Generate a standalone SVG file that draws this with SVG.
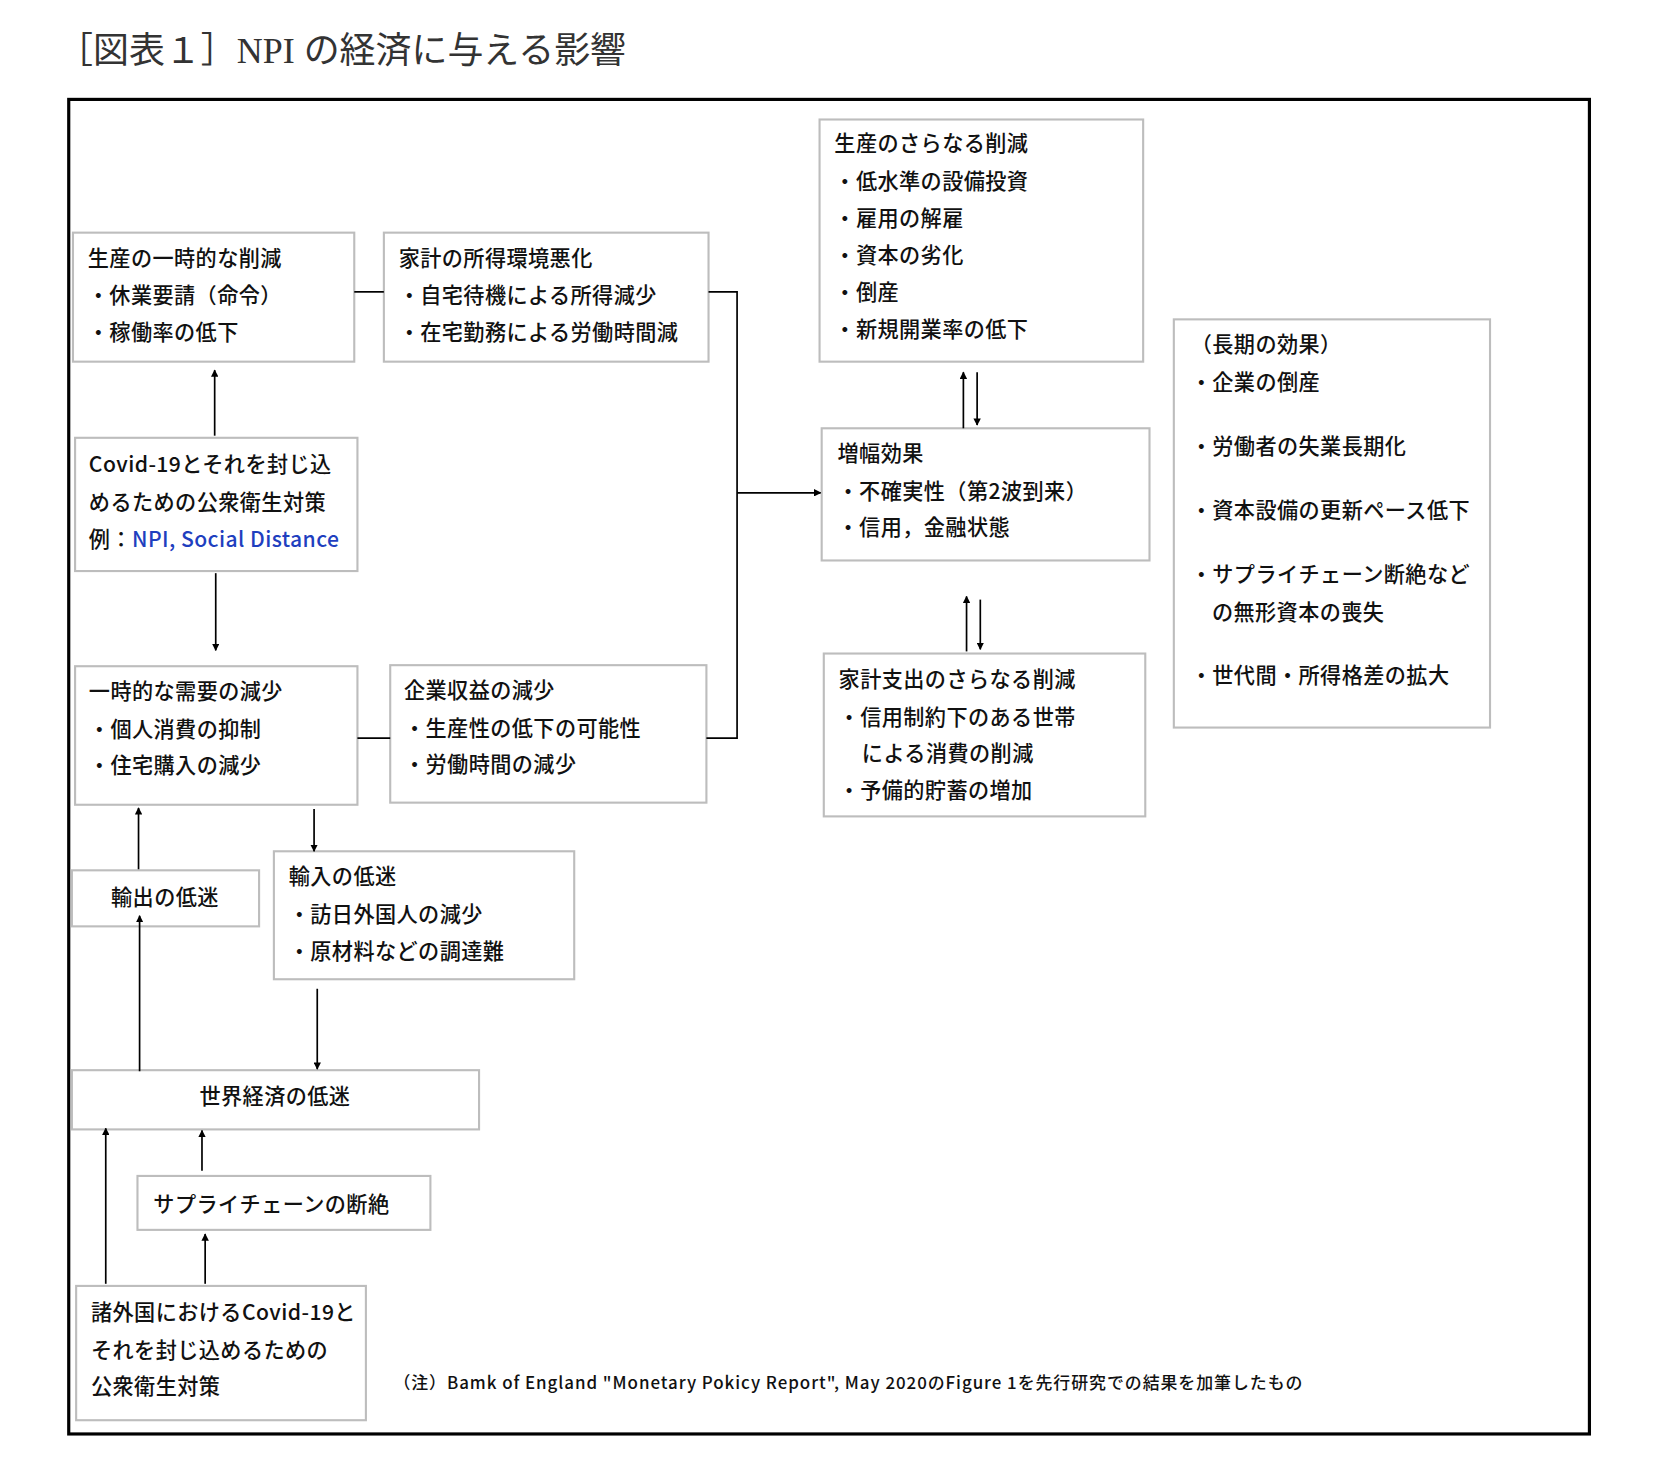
<svg xmlns="http://www.w3.org/2000/svg" width="1658" height="1471" viewBox="0 0 1658 1471">
<style>
.b{fill:#fff;stroke:#bdbdbd;stroke-width:2}
.t{font-family:"Noto Sans CJK JP","Noto Sans",sans-serif;font-size:20px;font-weight:500;fill:#111;dominant-baseline:central;letter-spacing:0.4px}
.c{stroke:#000;stroke-width:1.6;fill:none}
.a{marker-end:url(#ar)}
</style>
<defs><marker id="ar" viewBox="0 0 10 10" refX="9" refY="5" markerWidth="7" markerHeight="7" orient="auto" markerUnits="userSpaceOnUse"><path d="M0,0 L10,5 L0,10 z" fill="#000"/></marker></defs>
<rect width="1658" height="1471" fill="#fff"/>
<g transform="scale(1.0575,1.0575)">
<text x="54" y="60" style="font-family:'Liberation Serif','Noto Sans CJK JP',serif;font-size:34px;fill:#333">［図表１］NPI の経済に与える影響</text>
<rect x="65" y="94" width="1438" height="1262" fill="none" stroke="#000" stroke-width="3"/>
<g id="A"><rect class="b" x="69" y="220" width="266" height="122"/><text class="t" x="83" y="243">生産の一時的な削減</text><text class="t" x="83" y="278">・休業要請（命令）</text><text class="t" x="83" y="313">・稼働率の低下</text></g>
<g id="B"><rect class="b" x="363" y="220" width="307" height="122"/><text class="t" x="377" y="243">家計の所得環境悪化</text><text class="t" x="377" y="278">・自宅待機による所得減少</text><text class="t" x="377" y="313">・在宅勤務による労働時間減</text></g>
<g id="C"><rect class="b" x="775" y="113" width="306" height="229"/><text class="t" x="789" y="134">生産のさらなる削減</text><text class="t" x="789" y="170">・低水準の設備投資</text><text class="t" x="789" y="205">・雇用の解雇</text><text class="t" x="789" y="240">・資本の劣化</text><text class="t" x="789" y="275">・倒産</text><text class="t" x="789" y="310">・新規開業率の低下</text></g>
<g id="D"><rect class="b" x="1110" y="302" width="299" height="386"/><text class="t" x="1126" y="324">（長期の効果）</text><text class="t" x="1126" y="360">・企業の倒産</text><text class="t" x="1126" y="420">・労働者の失業長期化</text><text class="t" x="1126" y="481">・資本設備の更新ペース低下</text><text class="t" x="1126" y="541">・サプライチェーン断絶など</text><text class="t" x="1146" y="577">の無形資本の喪失</text><text class="t" x="1126" y="637">・世代間・所得格差の拡大</text></g>
<g id="E"><rect class="b" x="71" y="414" width="267" height="126"/><text class="t" x="84" y="437">Covid-19とそれを封じ込</text><text class="t" x="84" y="473">めるための公衆衛生対策</text><text class="t" x="84" y="508">例：<tspan fill="#1f3fbf">NPI, Social Distance</tspan></text></g>
<g id="F"><rect class="b" x="777" y="405" width="310" height="125"/><text class="t" x="792" y="427">増幅効果</text><text class="t" x="792" y="463">・不確実性（第2波到来）</text><text class="t" x="792" y="497">・信用，金融状態</text></g>
<g id="G"><rect class="b" x="71" y="630" width="267" height="131"/><text class="t" x="84" y="652">一時的な需要の減少</text><text class="t" x="84" y="688">・個人消費の抑制</text><text class="t" x="84" y="722">・住宅購入の減少</text></g>
<g id="H"><rect class="b" x="369" y="629" width="299" height="130"/><text class="t" x="382" y="651">企業収益の減少</text><text class="t" x="382" y="687">・生産性の低下の可能性</text><text class="t" x="382" y="721">・労働時間の減少</text></g>
<g id="I"><rect class="b" x="779" y="618" width="304" height="154"/><text class="t" x="793" y="641">家計支出のさらなる削減</text><text class="t" x="793" y="677">・信用制約下のある世帯</text><text class="t" x="815" y="711">による消費の削減</text><text class="t" x="793" y="746">・予備的貯蓄の増加</text></g>
<g id="J"><rect class="b" x="68" y="823" width="177" height="53"/><text class="t" x="156" y="847" text-anchor="middle">輸出の低迷</text></g>
<g id="K"><rect class="b" x="259" y="805" width="284" height="121"/><text class="t" x="273" y="827">輸入の低迷</text><text class="t" x="273" y="863">・訪日外国人の減少</text><text class="t" x="273" y="898">・原材料などの調達難</text></g>
<g id="L"><rect class="b" x="68" y="1012" width="385" height="56"/><text class="t" x="260" y="1035" text-anchor="middle">世界経済の低迷</text></g>
<g id="M"><rect class="b" x="130" y="1112" width="277" height="51"/><text class="t" x="145" y="1137">サプライチェーンの断絶</text></g>
<g id="N"><rect class="b" x="72" y="1216" width="274" height="127"/><text class="t" x="86" y="1239">諸外国におけるCovid-19と</text><text class="t" x="86" y="1275">それを封じ込めるための</text><text class="t" x="86" y="1309">公衆衛生対策</text></g>
<text class="t" x="372" y="1306" style="font-size:16px;letter-spacing:0.9px">（注）Bamk of England "Monetary Pokicy Report", May 2020のFigure 1を先行研究での結果を加筆したもの</text>
<g id="connectors">
<path class="c" d="M335,276 H363"/>
<path class="c" d="M670,276 H697 V698 H668"/>
<path class="c a" d="M697,466 H776"/>
<path class="c" d="M338,698 H369"/>
<path class="c a" d="M203,412 V350"/>
<path class="c a" d="M204,542 V615"/>
<path class="c a" d="M911,405 V352"/>
<path class="c a" d="M924,352 V402"/>
<path class="c a" d="M914,616 V564"/>
<path class="c a" d="M927,567 V614"/>
<path class="c a" d="M131,822 V764"/>
<path class="c a" d="M297,765 V805"/>
<path class="c a" d="M132,1013 V866"/>
<path class="c a" d="M300,935 V1011"/>
<path class="c a" d="M100,1214 V1067"/>
<path class="c a" d="M191,1107 V1069"/>
<path class="c a" d="M194,1214 V1167"/>
</g>
</g>
</svg>
